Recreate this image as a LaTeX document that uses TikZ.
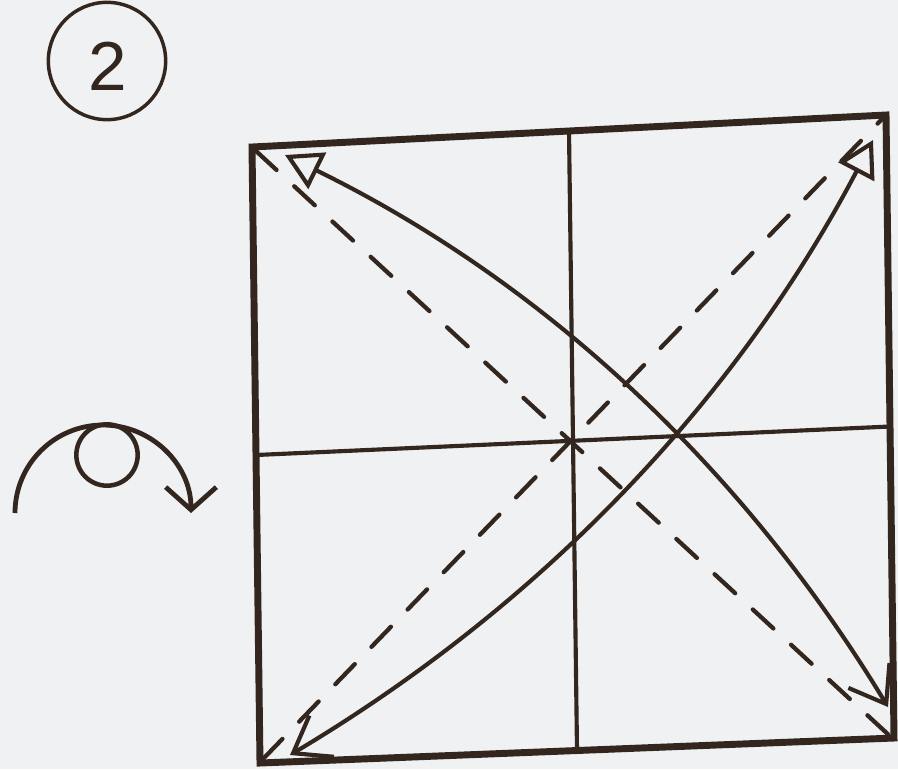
\documentclass[tikz,border=0pt]{standalone}
\usepackage{fontspec}
\setmainfont{Liberation Sans}
\usetikzlibrary{arrows.meta,calc}
\definecolor{ink}{HTML}{33261E}
\definecolor{paper}{HTML}{EFF1F3}
\begin{document}
\begin{tikzpicture}[x=0.75pt,y=-0.75pt,
  border/.style={draw=ink,line width=5.2pt,line join=miter},
  midline/.style={draw=ink,line width=3.1pt},
  crease/.style={draw=ink,line width=3.2pt,dash pattern=on 21pt off 18pt,line cap=round},
  foldarrow/.style={draw=ink,line width=3.1pt,
    {Triangle[open,length=27pt,width=30pt]}-{Straight Barb[length=25pt,width=36pt]}},
  turnarrow/.style={draw=ink,line width=3.6pt,-{Straight Barb[length=17pt,width=38pt]}},
  ring/.style={circle,draw=ink,inner sep=0pt},
]
\fill[paper] (0,0) rectangle (898,769);
\useasboundingbox (0,0) rectangle (898,769);

% step number
\node[ring,line width=2.6pt,minimum size=88pt] (numring) at (107,61) {};
\node[text=ink,font=\fontsize{52}{52}\selectfont,inner sep=0pt] (num) at (108,66) {2};

% turn-over symbol
\node[ring,line width=3.4pt,minimum size=46pt] (turn) at (107,455) {};
\coordinate (turnstart) at (15,513);
\draw[turnarrow] (turnstart) arc[start angle=180,end angle=360,radius=88];

% square corners
\coordinate (TL) at (252,147);
\coordinate (TR) at (886,115);
\coordinate (BR) at (894,738);
\coordinate (BL) at (260,763);

% midlines
\draw[midline] ($(TL)!0.5!(TR)$) coordinate (Tm) -- ($(BL)!0.5!(BR)$) coordinate (Bm);
\draw[midline] ($(TL)!0.5!(BL)$) coordinate (Lm) -- ($(TR)!0.5!(BR)$) coordinate (Rm);

% dashed diagonals
\coordinate (dTL) at (256,151);
\coordinate (dBR) at (891,737);
\coordinate (dBL) at (263,759);
\coordinate (dTR) at (883,118);
\draw[crease] (dTL) -- (dBR);
\draw[crease] (dBL) -- (dTR);

% fold arrows (quadratic curves)
\coordinate (a1s) at (285,155);
\coordinate (a1c) at (667,342);
\coordinate (a1e) at (888,707);
\coordinate (a2s) at (873,140);
\coordinate (a2c) at (668,530);
\coordinate (a2e) at (290,755);
\draw[foldarrow] (a1s) .. controls ($(a1s)!0.667!(a1c)$) and ($(a1e)!0.667!(a1c)$) .. (a1e);
\draw[foldarrow] (a2s) .. controls ($(a2s)!0.667!(a2c)$) and ($(a2e)!0.667!(a2c)$) .. (a2e);

% border
\draw[border] (TL) -- (TR) -- (BR) -- (BL) -- cycle;
\end{tikzpicture}
\end{document}
